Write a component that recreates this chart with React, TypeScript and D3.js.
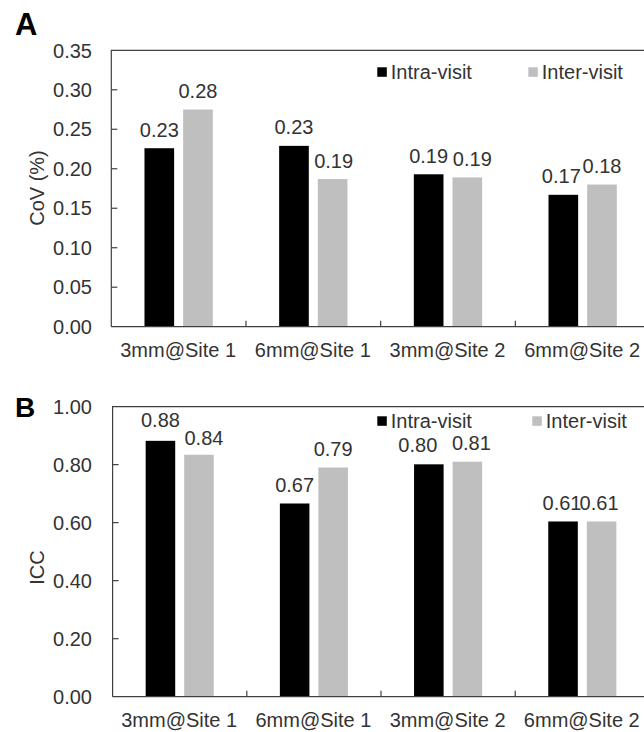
import React, { useEffect, useRef } from "react";
import * as d3 from "d3";

const categories = ["3mm@Site 1", "6mm@Site 1", "3mm@Site 2", "6mm@Site 2"];
const seriesNames = ["Intra-visit", "Inter-visit"];
const seriesColors = ["#000000", "#bfbfbf"];

const covIntra = [0.226, 0.229, 0.193, 0.167];
const covInter = [0.275, 0.187, 0.189, 0.18];
const covLabelsIntra = ["0.23", "0.23", "0.19", "0.17"];
const covLabelsInter = ["0.28", "0.19", "0.19", "0.18"];
const covTicks = [0, 0.05, 0.1, 0.15, 0.2, 0.25, 0.3, 0.35];

const iccIntra = [0.882, 0.666, 0.801, 0.604];
const iccInter = [0.834, 0.79, 0.81, 0.604];
const iccLabelsIntra = ["0.88", "0.67", "0.80", "0.61"];
const iccLabelsInter = ["0.84", "0.79", "0.81", "0.61"];
const iccTicks = [0, 0.2, 0.4, 0.6, 0.8, 1.0];

const FONT = "'Liberation Sans', Arial, Helvetica, sans-serif";
const TEXT = "#333333";
const AXIS = "#404040";

type PanelCfg = {
  letter: string;
  letterSize: number;
  letterY: number;
  left: number;
  right: number;
  top: number;
  bottom: number;
  yMax: number;
  ticks: number[];
  yTitle: string;
  yTitleY: number;
  intra: number[];
  inter: number[];
  labIntra: string[];
  labInter: string[];
  // manual label nudges (styling): [dx, dy] per category
  nudgeIntra: [number, number][];
  nudgeInter: [number, number][];
  legendY: number;
  legendX1: number;
  legendX2: number;
};

const panels: PanelCfg[] = [
  {
    letter: "A", letterSize: 31, letterY: 35,
    left: 111.3, right: 650, top: 50.3, bottom: 326.7, yMax: 0.35,
    ticks: covTicks, yTitle: "CoV (%)", yTitleY: 188,
    intra: covIntra, inter: covInter, labIntra: covLabelsIntra, labInter: covLabelsInter,
    nudgeIntra: [[0, 0], [0, 0], [0, 0], [-2, 0]],
    nudgeInter: [[0, 0], [1, 0], [5, 0], [0, 0]],
    legendY: 72, legendX1: 377.3, legendX2: 528.3,
  },
  {
    letter: "B", letterSize: 28, letterY: 417,
    left: 112.6, right: 649.4, top: 406.6, bottom: 696.7, yMax: 1.0,
    ticks: iccTicks, yTitle: "ICC", yTitleY: 567.5,
    intra: iccIntra, inter: iccInter, labIntra: iccLabelsIntra, labInter: iccLabelsInter,
    nudgeIntra: [[0, 2.5], [0, 0], [-11, 1], [-1, 0]],
    nudgeInter: [[5, -1.5], [0, 0], [4, 0], [-2.5, 0]],
    legendY: 421, legendX1: 377.3, legendX2: 532.3,
  },
];

function drawPanel(svg: d3.Selection<SVGSVGElement, unknown, null, undefined>, p: PanelCfg) {
  const g = svg.append("g");
  const y = d3.scaleLinear().domain([0, p.yMax]).range([p.bottom, p.top]);
  const x0 = d3.scaleBand<string>().domain(categories).range([p.left, p.right]).paddingInner(0).paddingOuter(0);
  const x1 = d3.scaleBand<string>().domain(seriesNames).range([0, x0.bandwidth()]).paddingInner(0.233).paddingOuter(0.858);

  // panel letter
  g.append("text").attr("x", 15).attr("y", p.letterY).attr("font-family", FONT)
    .attr("font-weight", "bold").attr("font-size", p.letterSize).attr("fill", "#000").text(p.letter);

  // bars
  const data = [p.intra, p.inter];
  const labels = [p.labIntra, p.labInter];
  const nudges = [p.nudgeIntra, p.nudgeInter];
  seriesNames.forEach((s, si) => {
    categories.forEach((c, ci) => {
      const v = data[si][ci];
      const bx = (x0(c) as number) + (x1(s) as number);
      g.append("rect").attr("x", bx).attr("y", y(v)).attr("width", x1.bandwidth())
        .attr("height", y(0) - y(v)).attr("fill", seriesColors[si]);
      const [dx, dy] = nudges[si][ci];
      g.append("text").attr("x", bx + x1.bandwidth() / 2 + dx).attr("y", y(v) - 11.5 - dy)
        .attr("text-anchor", "middle").attr("font-family", FONT).attr("font-size", 20)
        .attr("fill", TEXT).text(labels[si][ci]);
    });
  });

  // frame
  g.append("path")
    .attr("d", `M${p.left},${p.bottom}V${p.top}H${p.right + 5}M${p.left},${p.bottom}H${p.right + 5}`)
    .attr("fill", "none").attr("stroke", AXIS).attr("stroke-width", 1.2);

  // y ticks
  p.ticks.forEach((t) => {
    if (t > 0 && t < p.yMax) {
      g.append("line").attr("x1", p.left).attr("x2", p.left + 6).attr("y1", y(t)).attr("y2", y(t))
        .attr("stroke", AXIS).attr("stroke-width", 1.2);
    }
    g.append("text").attr("x", 92).attr("y", y(t)).attr("dy", "0.36em").attr("text-anchor", "end")
      .attr("font-family", FONT).attr("font-size", 20).attr("fill", TEXT)
      .text(d3.format(".2f")(t));
  });

  // x ticks at band boundaries
  categories.slice(1).forEach((c) => {
    const xx = x0(c) as number;
    g.append("line").attr("x1", xx).attr("x2", xx).attr("y1", p.bottom).attr("y2", p.bottom - 6)
      .attr("stroke", AXIS).attr("stroke-width", 1.2);
  });
  categories.forEach((c) => {
    g.append("text").attr("x", (x0(c) as number) + x0.bandwidth() / 2 - 0.5).attr("y", p.bottom + 30)
      .attr("text-anchor", "middle").attr("font-family", FONT).attr("font-size", 20)
      .attr("fill", TEXT).text(c);
  });

  // y title
  g.append("text").attr("transform", `translate(43.5,${p.yTitleY}) rotate(-90)`)
    .attr("text-anchor", "middle").attr("font-family", FONT).attr("font-size", 20)
    .attr("fill", TEXT).text(p.yTitle);

  // legend
  [p.legendX1, p.legendX2].forEach((lx, i) => {
    g.append("rect").attr("x", lx).attr("y", p.legendY - 4.7).attr("width", 9.5).attr("height", 9.5)
      .attr("fill", seriesColors[i]);
    g.append("text").attr("x", lx + 13.5).attr("y", p.legendY).attr("dy", "0.36em")
      .attr("font-family", FONT).attr("font-size", 20).attr("fill", TEXT).text(seriesNames[i]);
  });
}

export default function App() {
  const ref = useRef<SVGSVGElement | null>(null);
  useEffect(() => {
    if (!ref.current) return;
    const svg = d3.select(ref.current);
    svg.selectAll("*").remove();
    svg.append("rect").attr("width", 644).attr("height", 732).attr("fill", "#fff");
    panels.forEach((p) => drawPanel(svg, p));
  }, []);
  return (
    <svg
      ref={ref}
      width={644}
      height={732}
      style={{ position: "absolute", left: 0, top: 0, display: "block" }}
    />
  );
}
